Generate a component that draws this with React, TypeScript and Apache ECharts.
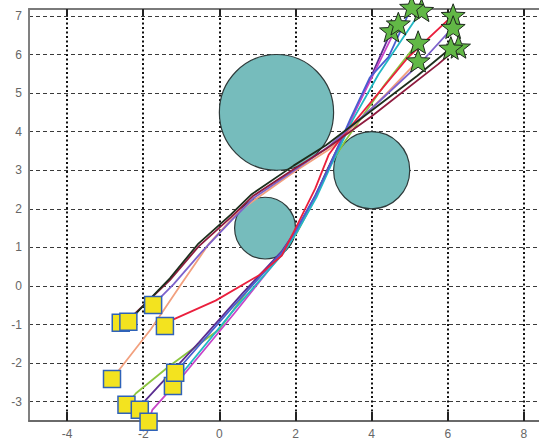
import React, { useEffect, useRef } from "react";
import * as echarts from "echarts";

// Axis ticks
const xTicks = [-4, -2, 0, 2, 4, 6, 8];
const yTicks = [-3, -2, -1, 0, 1, 2, 3, 4, 5, 6, 7];

// Circular obstacles: [centerX, centerY, radius]
const obstacles = [
  [1.5, 4.5, 1.5],
  [4, 3, 1],
  [1.2, 1.5, 0.8],
];

// Planned paths, each from its start (square) to its goal (star)
const pathBlack = [[-2.39, -0.93], [-2.1, -0.62], [-1.3, 0.2], [-0.55, 1.1], [0.3, 1.85], [0.85, 2.38], [1.95, 3.12], [2.8, 3.65], [4.0, 4.55], [5.2, 5.45], [6.08, 6.17]];
const pathMaroon = [[-2.59, -0.95], [-2.2, -0.7], [-1.3, 0.15], [-0.55, 1.02], [0.3, 1.78], [0.88, 2.33], [2.0, 3.06], [2.8, 3.55], [4.0, 4.4], [5.75, 5.75], [6.28, 6.2]];
const pathViolet = [[-1.74, -0.49], [-1.2, 0.05], [-0.45, 0.9], [0.32, 1.7], [0.9, 2.28], [2.0, 3.02], [2.85, 3.6], [4.0, 4.6], [5.3, 5.8], [6.14, 6.71]];
const pathSalmon = [[-2.82, -2.41], [-2.63, -2.17], [-1.8, -1.12], [-1.0, 0.05], [-0.27, 1.1], [0.5, 1.92], [0.95, 2.25], [2.0, 2.98], [2.9, 3.55], [4.35, 4.95], [5.22, 5.84]];
const pathRed = [[-1.43, -1.04], [-1.19, -0.86], [-0.1, -0.38], [1.03, 0.27], [1.64, 0.79], [2.04, 1.57], [2.52, 2.53], [2.87, 3.4], [3.2, 3.84], [4.96, 5.93], [6.14, 7.02]];
const pathGreen = [[-2.44, -3.08], [-2.19, -2.78], [-1.32, -2.08], [0, -1.12], [0.77, -0.08], [1.5, 0.72], [2.02, 1.35], [2.5, 2.25], [2.85, 3.05], [3.3, 3.75], [4.35, 5.23], [5.22, 6.32]];
const pathPurple = [[-2.09, -3.21], [-1.93, -2.95], [-0.54, -1.47], [0.6, -0.2], [1.64, 0.9], [2.02, 1.45], [2.5, 2.3], [2.9, 3.15], [3.48, 4.36], [3.95, 5.35], [4.52, 6.62]];
const pathMagenta = [[-1.86, -3.52], [-1.76, -3.21], [-0.97, -2.34], [0.4, -0.7], [1.66, 0.86], [2.03, 1.4], [2.5, 2.25], [2.9, 3.1], [3.45, 4.3], [4.05, 5.5], [4.7, 6.8]];
const pathCyan = [[-1.22, -2.59], [-0.97, -2.25], [0.4, -0.6], [1.68, 0.85], [2.05, 1.42], [2.55, 2.3], [2.92, 3.1], [3.5, 4.3], [4.18, 5.49], [5.31, 7.15]];
const pathBlue = [[-1.16, -2.25], [0.3, -0.6], [1.65, 0.88], [2.02, 1.45], [2.52, 2.35], [2.9, 3.12], [3.45, 4.35], [3.95, 5.4], [4.44, 5.93], [5.05, 7.23]];

const paths = [pathGreen, pathPurple, pathMagenta, pathCyan, pathBlue, pathSalmon, pathRed, pathViolet, pathMaroon, pathBlack];
const pathColors = ["#8cc63f", "#5a2d91", "#c845c8", "#22b8c4", "#4a5fd0", "#f2a07e", "#ea1f3d", "#7d62cc", "#8e1a3e", "#1c2e1c"];

const STAR =
  "path://M10,0 L12.6,7 L20,7.3 L14.2,11.9 L16.2,19 L10,14.9 L3.8,19 L5.8,11.9 L0,7.3 L7.4,7 Z";

export default function App() {
  const ref = useRef<HTMLDivElement>(null);

  useEffect(() => {
    if (!ref.current) return;
    const chart = echarts.init(ref.current, undefined, { renderer: "svg" });

    const labelStyle = {
      color: "#666",
      fontSize: 12,
      fontFamily: "Liberation Sans, Arial, sans-serif",
    };

    const lineSeries = paths.map((p, i) => ({
      type: "line",
      data: p,
      showSymbol: false,
      symbol: "none",
      clip: false,
      lineStyle: { color: pathColors[i], width: 1.8 },
      z: 3,
      silent: true,
    }));

    chart.setOption({
      animation: false,
      grid: { left: 29, right: 17, top: 9, bottom: 22, containLabel: false },
      xAxis: [
        {
          type: "value",
          min: -5,
          max: 8.5,
          axisLine: { show: true, onZero: false, lineStyle: { color: "#6a6a6a", width: 2 } },
          axisTick: {
            show: true,
            inside: true,
            length: 9,
            customValues: xTicks,
            lineStyle: { color: "#222", width: 2 },
          },
          axisLabel: { ...labelStyle, margin: 7, customValues: xTicks },
          splitLine: {
            show: true,
            lineStyle: { color: "#111", width: 2, type: [2, 2.5] },
          },
        },
        {
          type: "value",
          position: "top",
          min: -5,
          max: 8.5,
          axisLine: { show: true, onZero: false, lineStyle: { color: "#7a7a7a", width: 2 } },
          axisTick: {
            show: true,
            inside: true,
            length: 7,
            customValues: xTicks,
            lineStyle: { color: "#222", width: 2 },
          },
          axisLabel: { show: false },
          splitLine: { show: false },
        },
      ],
      yAxis: {
        type: "value",
        min: -3.5,
        max: 7.18,
        axisLine: { show: true, onZero: false, lineStyle: { color: "#808080", width: 2 } },
        axisTick: { show: false, customValues: yTicks },
        axisLabel: { ...labelStyle, margin: 7, customValues: yTicks },
        splitLine: {
          show: true,
          lineStyle: { color: "#3a3a3a", width: 1.2, type: [4, 3] },
        },
      },
      series: [
        {
          type: "custom",
          data: obstacles,
          dimensions: ["x", "y", "r"],
          encode: { x: 0, y: 1 },
          z: 2,
          silent: true,
          renderItem: (_params: any, api: any) => {
            const c = api.coord([api.value(0), api.value(1)]);
            const s = api.size([api.value(2), api.value(2)]);
            return {
              type: "ellipse",
              shape: { cx: c[0], cy: c[1], rx: s[0], ry: s[1] },
              style: { fill: "#76bcbc", stroke: "#2e3a3a", lineWidth: 1.2 },
            };
          },
        },
        ...lineSeries,
        {
          type: "scatter",
          data: paths.map((p) => p[0]),
          symbol: "rect",
          symbolSize: 17,
          clip: false,
          itemStyle: { color: "#f3e31f", borderColor: "#2f62b8", borderWidth: 1.5, opacity: 1 },
          z: 5,
          silent: true,
        },
        {
          type: "scatter",
          data: paths.map((p) => p[p.length - 1]),
          symbol: STAR,
          symbolSize: 24,
          symbolKeepAspect: true,
          clip: false,
          itemStyle: { color: "#62b846", borderColor: "#1e2a1e", borderWidth: 1, opacity: 1 },
          z: 6,
          silent: true,
        },
      ],
    });

    return () => chart.dispose();
  }, []);

  return (
    <div
      style={{
        position: "fixed",
        left: 0,
        top: 0,
        width: 539,
        height: 443,
        overflow: "hidden",
        background: "#fff",
      }}
    >
      <div ref={ref} style={{ width: 560, height: 443 }} />
    </div>
  );
}
